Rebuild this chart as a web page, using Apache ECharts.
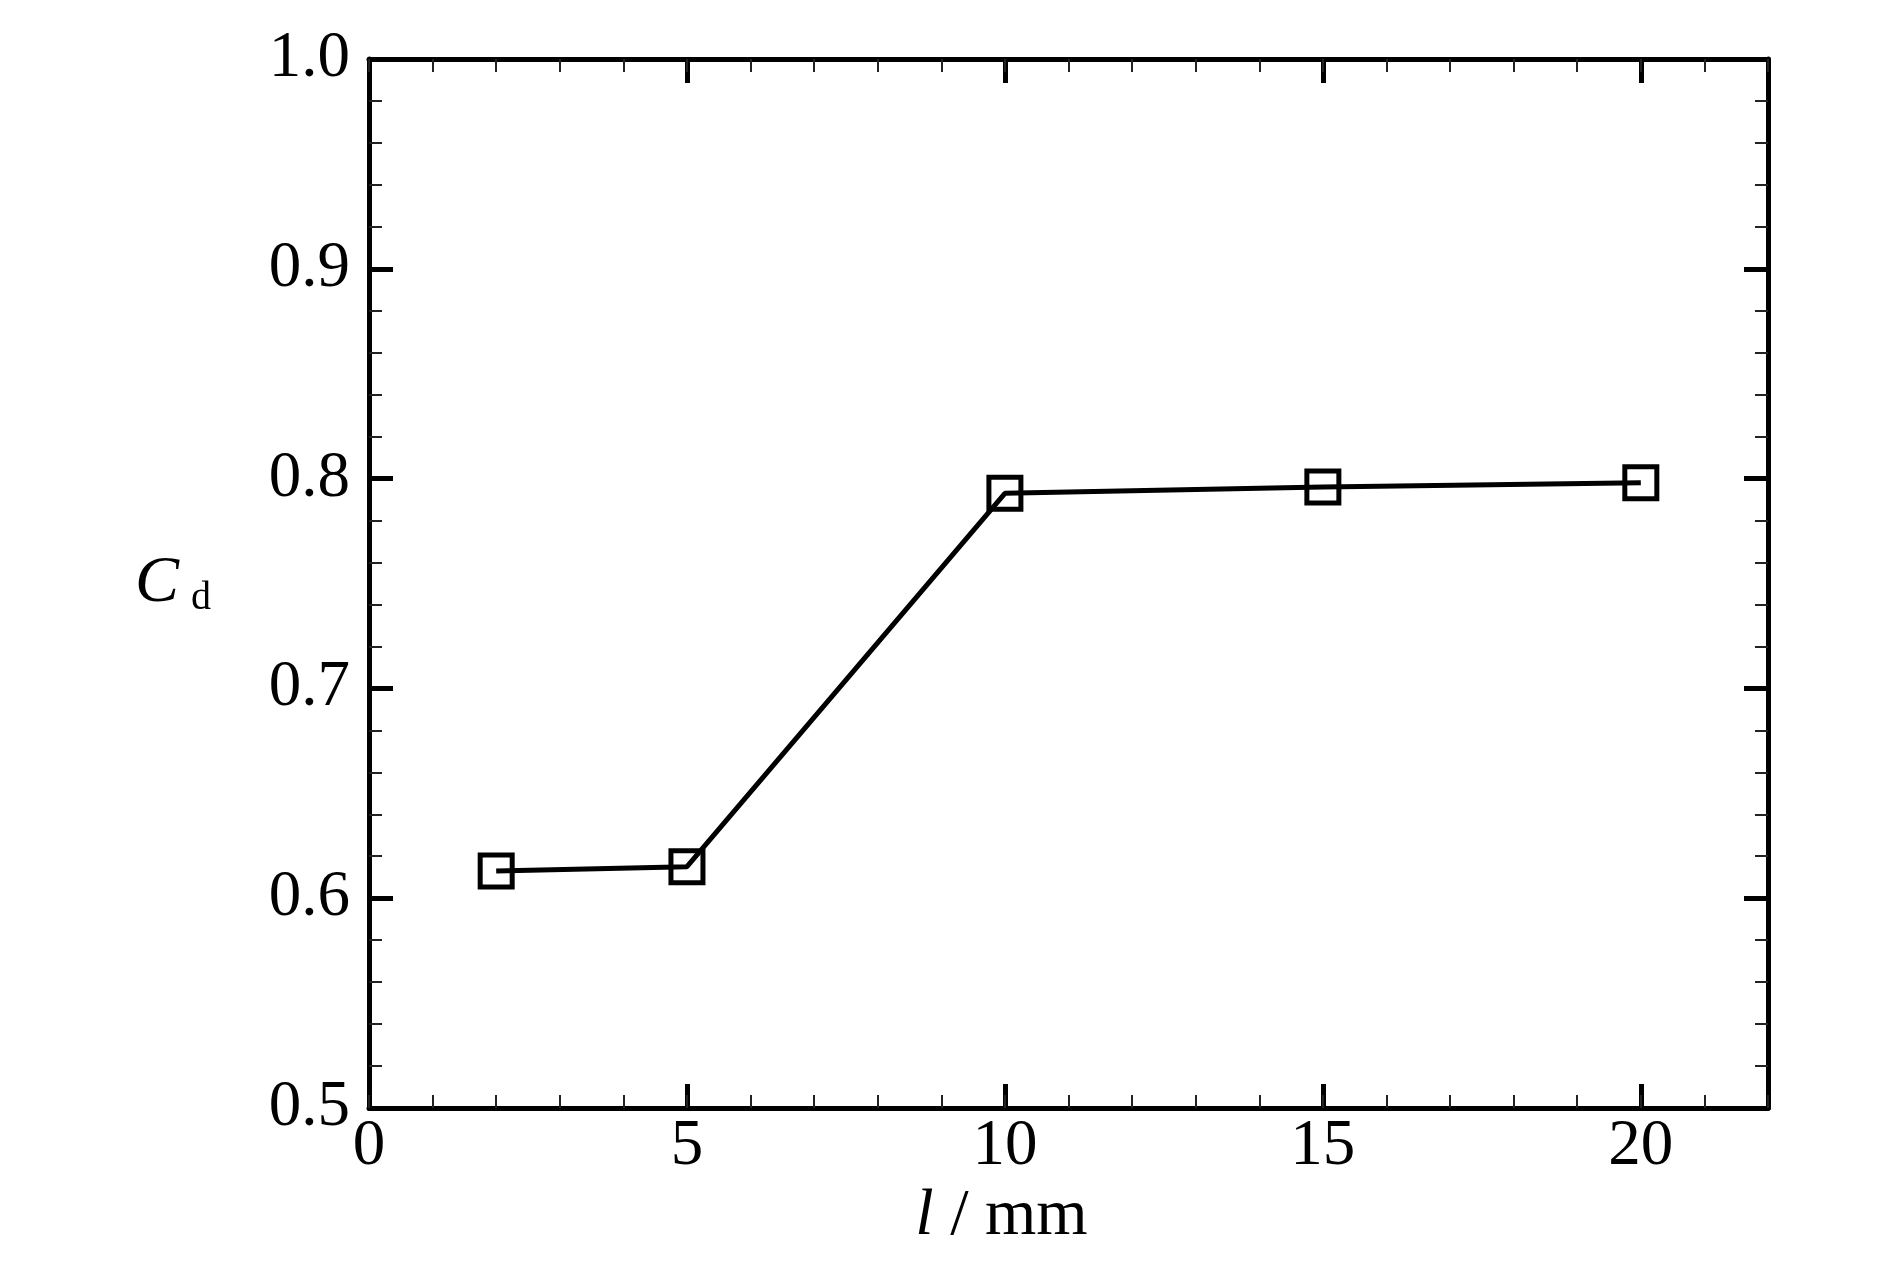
<!DOCTYPE html>
<html>
<head>
<meta charset="utf-8">
<script src="https://cdn.jsdelivr.net/npm/echarts@6/dist/echarts.min.js"></script>
<style>
html,body{margin:0;padding:0;background:#fff;}
#chart{width:1883px;height:1268px;}
</style>
</head>
<body>
<div id="chart"></div>
<script>
// Data
const lengths = [2, 5, 10, 15, 20];          // l / mm
const cdValues = [0.613, 0.615, 0.793, 0.796, 0.798]; // C_d
const xTickLabels = [0, 5, 10, 15, 20];
const yTickLabels = [0.5, 0.6, 0.7, 0.8, 0.9, 1.0];

const FONT = '"Liberation Serif", "Times New Roman", serif';
const chart = echarts.init(document.getElementById('chart'), null, {renderer: 'canvas'});

const frame = {show: true, onZero: false, lineStyle: {color: '#000', width: 5}};
const noLine = {show: false, onZero: false};
const xMajorTick = {show: true, inside: true, length: 24, lineStyle: {color: '#000', width: 5}};
const xMinorTick = {show: true, inside: true, length: 13, lineStyle: {color: '#222', width: 2}};

const xBase = {type: 'value', min: 0, max: 22, splitLine: {show: false}};

const option = {
  backgroundColor: '#fff',
  animation: false,
  grid: {left: 369, right: 115, top: 59, bottom: 160, containLabel: false},
  xAxis: [
    Object.assign({}, xBase, {
      position: 'bottom', interval: 5,
      axisLine: frame, axisTick: xMajorTick,
      axisLabel: {
        show: true, margin: 6, color: '#000', fontFamily: FONT, fontSize: 65,
        formatter: v => (xTickLabels.indexOf(v) >= 0 ? String(v) : '')
      },
      name: '{i|l}{n| / mm}',
      nameLocation: 'middle', nameGap: 73,
      nameTextStyle: {
        padding: [0, 134, 0, 0],
        rich: {
          i: {fontFamily: FONT, fontStyle: 'italic', fontSize: 66, color: '#000'},
          n: {fontFamily: FONT, fontSize: 66, color: '#000'}
        }
      }
    }),
    Object.assign({}, xBase, {
      position: 'bottom', interval: 1,
      axisLine: noLine, axisTick: xMinorTick, axisLabel: {show: false}
    }),
    Object.assign({}, xBase, {
      position: 'top', interval: 5,
      axisLine: frame, axisTick: xMajorTick, axisLabel: {show: false}
    }),
    Object.assign({}, xBase, {
      position: 'top', interval: 1,
      axisLine: noLine, axisTick: xMinorTick, axisLabel: {show: false}
    })
  ],
  yAxis: [
    {
      type: 'value', position: 'left', min: 0.5, max: 1.0, interval: 0.1,
      splitLine: {show: false},
      axisLine: frame,
      axisTick: {show: true, inside: true, length: 24, lineStyle: {color: '#000', width: 5}},
      minorTick: {show: true, splitNumber: 5, length: 13, lineStyle: {color: '#222', width: 2}},
      minorSplitLine: {show: false},
      axisLabel: {
        show: true, margin: 19, color: '#000', fontFamily: FONT, fontSize: 65,
        formatter: v => {
          const hit = yTickLabels.find(t => Math.abs(t - v) < 1e-9);
          return hit !== undefined ? hit.toFixed(1) : '';
        }
      },
      name: '{i|C}{s|d}',
      nameLocation: 'middle', nameRotate: 0, nameGap: 158,
      nameTextStyle: {
        rich: {
          i: {fontFamily: FONT, fontStyle: 'italic', fontSize: 66, color: '#000', lineHeight: 70},
          s: {fontFamily: FONT, fontSize: 40, color: '#000', verticalAlign: 'bottom', lineHeight: 20, padding: [0, 0, 0, 12]}
        }
      }
    },
    {
      type: 'value', position: 'right', min: 0.5, max: 1.0, interval: 0.1,
      splitLine: {show: false},
      axisLine: frame,
      axisTick: {show: true, inside: true, length: 24, lineStyle: {color: '#000', width: 5}},
      minorTick: {show: true, splitNumber: 5, length: 13, lineStyle: {color: '#222', width: 2}},
      axisLabel: {show: false}
    }
  ],
  series: [{
    type: 'line',
    xAxisIndex: 0, yAxisIndex: 0,
    data: lengths.map((x, i) => [x, cdValues[i]]),
    symbol: 'rect',
    symbolSize: 32,
    showAllSymbol: true,
    lineStyle: {color: '#000', width: 5},
    itemStyle: {color: 'rgba(0,0,0,0)', borderColor: '#000', borderWidth: 5},
    z: 5
  }]
};
chart.setOption(option);
</script>
</body>
</html>
